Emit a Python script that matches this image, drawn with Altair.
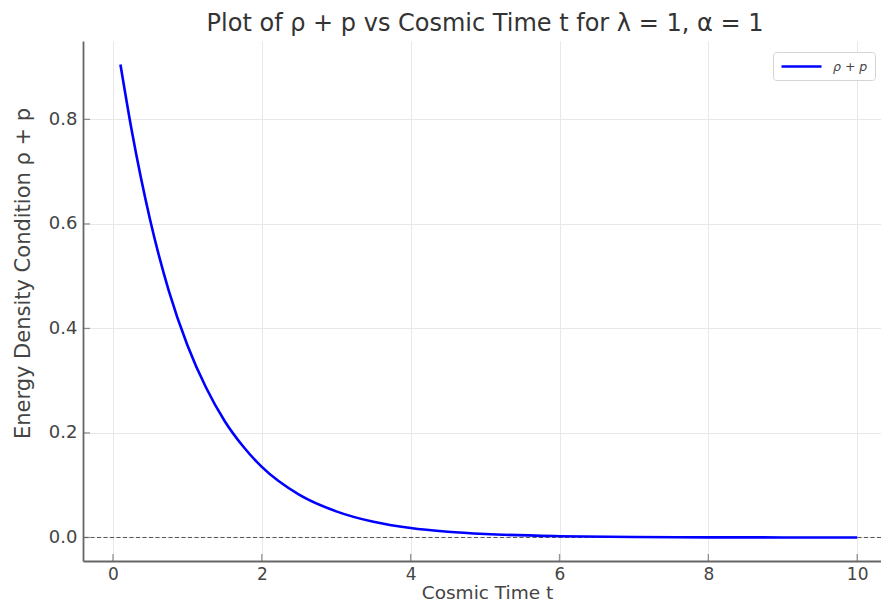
import altair as alt
import pandas as pd

# Values
t_vals = [0.1, 0.25, 0.5, 0.75, 1.0, 1.25, 1.5, 1.75, 2.0, 2.5, 3.0, 3.5, 4.0, 4.5, 5.0, 6.0, 7.0, 8.0, 9.0, 10.0]
rho_p_vals = [0.905, 0.78, 0.607, 0.472, 0.368, 0.287, 0.223, 0.174, 0.135, 0.082, 0.050, 0.030, 0.018, 0.011, 0.0067, 0.0025, 0.0009, 0.0003, 0.0001, 0.00005]
x_ticks = [0, 2, 4, 6, 8, 10]
y_ticks = [0.0, 0.2, 0.4, 0.6, 0.8]
series_name = "ρ + p"

W, H = 798, 520
FONT = "DejaVu Sans"
TXT = "#444444"

df = pd.DataFrame({"t": t_vals, "v": rho_p_vals, "s": [series_name] * len(t_vals)})
xt = pd.DataFrame({"tick": x_ticks})
yt = pd.DataFrame({"tick": y_ticks})

xscale = alt.Scale(domain=[-0.403, 10.32], nice=False, zero=False)
yscale = alt.Scale(domain=[-0.045, 0.95], nice=False, zero=False)

line = alt.Chart(df).mark_line(strokeWidth=2.6, interpolate="monotone").encode(
    x=alt.X("t:Q", scale=xscale, title="Cosmic Time t",
            axis=alt.Axis(values=x_ticks, ticks=False, labelPadding=5, format="d",
                          domainColor="#666666", domainWidth=1.8,
                          gridColor="#e8e8e8", gridWidth=1,
                          labelFont=FONT, labelFontSize=17, labelColor=TXT,
                          titleFont=FONT, titleFontSize=18.5, titleColor=TXT,
                          titleFontWeight="normal", titleX=404, titleY=37,
                          titleBaseline="alphabetic")),
    y=alt.Y("v:Q", scale=yscale, title="Energy Density Condition ρ + p",
            axis=alt.Axis(values=y_ticks, ticks=False, labelPadding=6, format=".1f",
                          domainColor="#666666", domainWidth=1.8,
                          gridColor="#e8e8e8", gridWidth=1,
                          labelFont=FONT, labelFontSize=18, labelColor=TXT,
                          titleFont=FONT, titleFontSize=21, titleColor=TXT,
                          titleFontWeight="normal", titleX=-50, titleY=232,
                          titleBaseline="bottom")),
    color=alt.Color("s:N", scale=alt.Scale(range=["#0000ff"]), title=None,
                    legend=alt.Legend(orient="none", legendX=690, legendY=11,
                                      symbolType="M-1,0H5.67", symbolSize=144,
                                      symbolStrokeWidth=2.6, labelFont=FONT,
                                      labelFontSize=12.5, labelFontStyle="italic",
                                      labelColor=TXT, strokeColor="#d4d4d4",
                                      fillColor="white", padding=7, cornerRadius=3,
                                      labelOffset=38)),
)

zero = alt.Chart(pd.DataFrame({"z": [0.0]})).mark_rule(
    color="#555555", strokeWidth=1, strokeDash=[4, 2.5]
).encode(y=alt.Y("z:Q", scale=yscale))

xtick = alt.Chart(xt).mark_tick(orient="vertical", size=7, thickness=1.3, color="#666666").encode(
    x=alt.X("tick:Q", scale=xscale), y=alt.value(H - 3.5))
ytick = alt.Chart(yt).mark_tick(orient="horizontal", size=7, thickness=1.3, color="#666666").encode(
    y=alt.Y("tick:Q", scale=yscale), x=alt.value(3.5))

chart = alt.layer(zero, line, xtick, ytick).properties(
    width=W, height=H,
    title=alt.Title("Plot of ρ + p vs Cosmic Time t for λ = 1, α = 1",
                    font=FONT, fontSize=24, fontWeight="normal", color="#333333",
                    anchor="middle", offset=5, dx=3),
    autosize=alt.AutoSizeParams(type="none"),
    padding={"left": 75, "top": 33, "right": 0, "bottom": 41},
).configure_view(stroke=None)

chart.save("out.html", embed_options={"renderer": "svg", "actions": False})
